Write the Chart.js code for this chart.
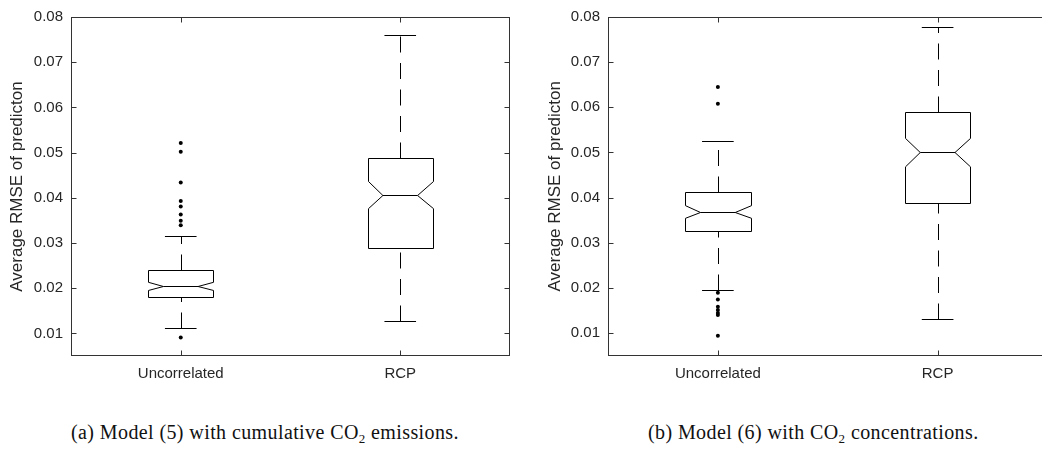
<!DOCTYPE html>
<html>
<head>
<meta charset="utf-8">
<script src="https://cdn.jsdelivr.net/npm/chart.js@4/dist/chart.umd.min.js"></script>
<style>
  html, body { margin: 0; padding: 0; background: #fff; }
  body { width: 1042px; height: 454px; overflow: hidden; position: relative; }
  .panel { position: absolute; top: 0; }
  .cap { position: absolute; font-family: "Liberation Serif", "DejaVu Serif", serif; font-size: 20px; letter-spacing: 0.4px; color: #111; white-space: nowrap; line-height: 24px; }
  .cap sub { font-size: 13px; vertical-align: -4px; line-height: 0; }
</style>
</head>
<body>
<div class="panel" style="left:0;width:520px;height:400px"><canvas id="ca" width="520" height="400"></canvas></div>
<div class="panel" style="left:520px;width:540px;height:400px"><canvas id="cb" width="540" height="400"></canvas></div>
<div class="cap" id="capA" style="left:71px;top:420px">(a) Model (5) with cumulative CO<sub>2</sub> emissions.</div>
<div class="cap" id="capB" style="left:648px;top:420px">(b) Model (6) with CO<sub>2</sub> concentrations.</div>
<script>
// ---------- data ----------
const categories = ['Uncorrelated', 'RCP'];
const yTicks = [0.01, 0.02, 0.03, 0.04, 0.05, 0.06, 0.07, 0.08];
const yTitle = 'Average RMSE of predicton';

// Panel (a): Model (5), cumulative CO2 emissions
const aWhiskerLo = [0.0113, 0.0127];
const aQ1        = [0.0181, 0.0289];
const aNotchLo   = [0.0195, 0.0376];
const aMedian    = [0.0204, 0.0406];
const aNotchHi   = [0.0213, 0.0436];
const aQ3        = [0.0240, 0.0487];
const aWhiskerHi = [0.0315, 0.0761];
const aOutliers  = [[0.0521, 0.0502, 0.0434, 0.0393, 0.0381, 0.0363, 0.0349, 0.0339, 0.0091], []];

// Panel (b): Model (6), CO2 concentrations
const bWhiskerLo = [0.0196, 0.0131];
const bQ1        = [0.0325, 0.0388];
const bNotchLo   = [0.0354, 0.0468];
const bMedian    = [0.0368, 0.0500];
const bNotchHi   = [0.0382, 0.0531];
const bQ3        = [0.0412, 0.0590];
const bWhiskerHi = [0.0525, 0.0778];
const bOutliers  = [[0.0645, 0.0608, 0.0189, 0.0174, 0.0158, 0.0151, 0.0144, 0.0140, 0.0094], []];

// ---------- drawing ----------
Chart.defaults.font.family = '"Liberation Sans", Arial, sans-serif';
Chart.defaults.color = '#262626';

const BOX_HALF = 0.149, NOTCH_IN = 0.07, CAP_HALF = 0.072;
const AXIS_COLOR = '#333';

function boxPlugin(stats) {
  return {
    id: 'boxes',
    beforeDatasetsDraw(chart) {
      const {ctx, scales: {x, y}} = chart;
      const h = v => Math.round(v) + 0.5;
      ctx.save();
      ctx.strokeStyle = '#000';
      ctx.lineWidth = 1;
      categories.forEach((c, i) => {
        const cx = i + 1;
        const px = h(x.getPixelForValue(cx));
        const xl = h(x.getPixelForValue(cx - BOX_HALF));
        const xr = h(x.getPixelForValue(cx + BOX_HALF));
        const nl = x.getPixelForValue(cx - BOX_HALF + NOTCH_IN);
        const nr = x.getPixelForValue(cx + BOX_HALF - NOTCH_IN);
        const yq1 = h(y.getPixelForValue(stats.q1[i]));
        const yq3 = h(y.getPixelForValue(stats.q3[i]));
        const ym = h(y.getPixelForValue(stats.med[i]));
        const ynl = y.getPixelForValue(stats.nlo[i]);
        const ynh = y.getPixelForValue(stats.nhi[i]);
        const ywl = h(y.getPixelForValue(stats.wlo[i]));
        const ywh = h(y.getPixelForValue(stats.whi[i]));
        // whiskers (dashed, drawn from low value to high value)
        ctx.setLineDash([16, 10.5]);
        ctx.beginPath(); ctx.moveTo(px, ywl); ctx.lineTo(px, yq1); ctx.stroke();
        ctx.beginPath(); ctx.moveTo(px, yq3); ctx.lineTo(px, ywh); ctx.stroke();
        ctx.setLineDash([]);
        // caps
        const cl = x.getPixelForValue(cx - CAP_HALF), cr = x.getPixelForValue(cx + CAP_HALF);
        ctx.beginPath(); ctx.moveTo(cl, ywl); ctx.lineTo(cr, ywl); ctx.stroke();
        ctx.beginPath(); ctx.moveTo(cl, ywh); ctx.lineTo(cr, ywh); ctx.stroke();
        // notched box
        ctx.fillStyle = '#fff';
        ctx.beginPath();
        ctx.moveTo(xl, yq3);
        ctx.lineTo(xl, ynh);
        ctx.lineTo(nl, ym);
        ctx.lineTo(xl, ynl);
        ctx.lineTo(xl, yq1);
        ctx.lineTo(xr, yq1);
        ctx.lineTo(xr, ynl);
        ctx.lineTo(nr, ym);
        ctx.lineTo(xr, ynh);
        ctx.lineTo(xr, yq3);
        ctx.closePath();
        ctx.fill();
        ctx.stroke();
        // median
        ctx.beginPath(); ctx.moveTo(nl, ym); ctx.lineTo(nr, ym); ctx.stroke();
      });
      ctx.restore();
    },
    afterDraw(chart) {
      const {ctx, scales: {x, y}, chartArea: ca} = chart;
      const L = Math.round(ca.left) + 0.5, R = Math.round(ca.right) - 0.5;
      const T = Math.round(ca.top) + 0.5, B = Math.round(ca.bottom) - 0.5;
      ctx.save();
      ctx.strokeStyle = AXIS_COLOR;
      ctx.lineWidth = 1;
      ctx.strokeRect(L, T, R - L, B - T);
      const TL = 5;
      y.ticks.forEach(t => {
        const py = Math.round(y.getPixelForValue(t.value)) + 0.5;
        ctx.beginPath(); ctx.moveTo(L, py); ctx.lineTo(L + TL, py); ctx.stroke();
        ctx.beginPath(); ctx.moveTo(R, py); ctx.lineTo(R - TL, py); ctx.stroke();
      });
      x.ticks.forEach(t => {
        const px = Math.round(x.getPixelForValue(t.value)) + 0.5;
        ctx.beginPath(); ctx.moveTo(px, B); ctx.lineTo(px, B - TL); ctx.stroke();
        ctx.beginPath(); ctx.moveTo(px, T); ctx.lineTo(px, T + TL); ctx.stroke();
      });
      ctx.restore();
    }
  };
}

function makeChart(id, stats, outliers, geom) {
  const pts = [];
  outliers.forEach((arr, i) => arr.forEach(v => pts.push({x: i + 1, y: v})));
  return new Chart(document.getElementById(id), {
    type: 'scatter',
    data: {
      datasets: [{
        data: pts,
        pointRadius: 2,
        pointBackgroundColor: '#000',
        pointBorderColor: '#000',
        pointBorderWidth: 0,
        pointHoverRadius: 2
      }]
    },
    options: {
      responsive: false,
      animation: false,
      devicePixelRatio: 1,
      events: [],
      layout: { padding: { top: geom.top, right: geom.right, left: 0, bottom: 0 } },
      plugins: { legend: { display: false }, tooltip: { enabled: false } },
      scales: {
        x: {
          type: 'linear', min: 0.5, max: 2.5,
          grid: { display: false, drawTicks: false },
          border: { display: false },
          afterBuildTicks(s) { s.ticks = categories.map((c, i) => ({ value: i + 1 })); },
          afterFit(s) { s.height = geom.xh; },
          ticks: {
            padding: 9,
            font: { size: 15 },
            color: '#262626',
            callback: v => categories[v - 1]
          }
        },
        y: {
          type: 'linear', min: 0.005, max: 0.08,
          grid: { display: false, drawTicks: false },
          border: { display: false },
          afterBuildTicks(s) { s.ticks = yTicks.map(v => ({ value: v })); },
          afterFit(s) { s.width = geom.yw; },
          ticks: {
            padding: 8,
            font: { size: 15 },
            color: '#262626',
            callback: v => v.toFixed(2)
          },
          title: {
            display: true,
            text: yTitle,
            font: { size: 17 },
            color: '#262626',
            padding: { top: geom.titlePad, bottom: 0 }
          }
        }
      }
    },
    plugins: [boxPlugin(stats)]
  });
}

makeChart('ca',
  { wlo: aWhiskerLo, q1: aQ1, nlo: aNotchLo, med: aMedian, nhi: aNotchHi, q3: aQ3, whi: aWhiskerHi },
  aOutliers,
  { top: 12, right: 10, xh: 44, yw: 71, titlePad: 7.3 });

makeChart('cb',
  { wlo: bWhiskerLo, q1: bQ1, nlo: bNotchLo, med: bMedian, nhi: bNotchHi, q3: bQ3, whi: bWhiskerHi },
  bOutliers,
  { top: 12.5, right: 12.5, xh: 44.5, yw: 88, titlePad: 24.8 });
</script>
</body>
</html>
